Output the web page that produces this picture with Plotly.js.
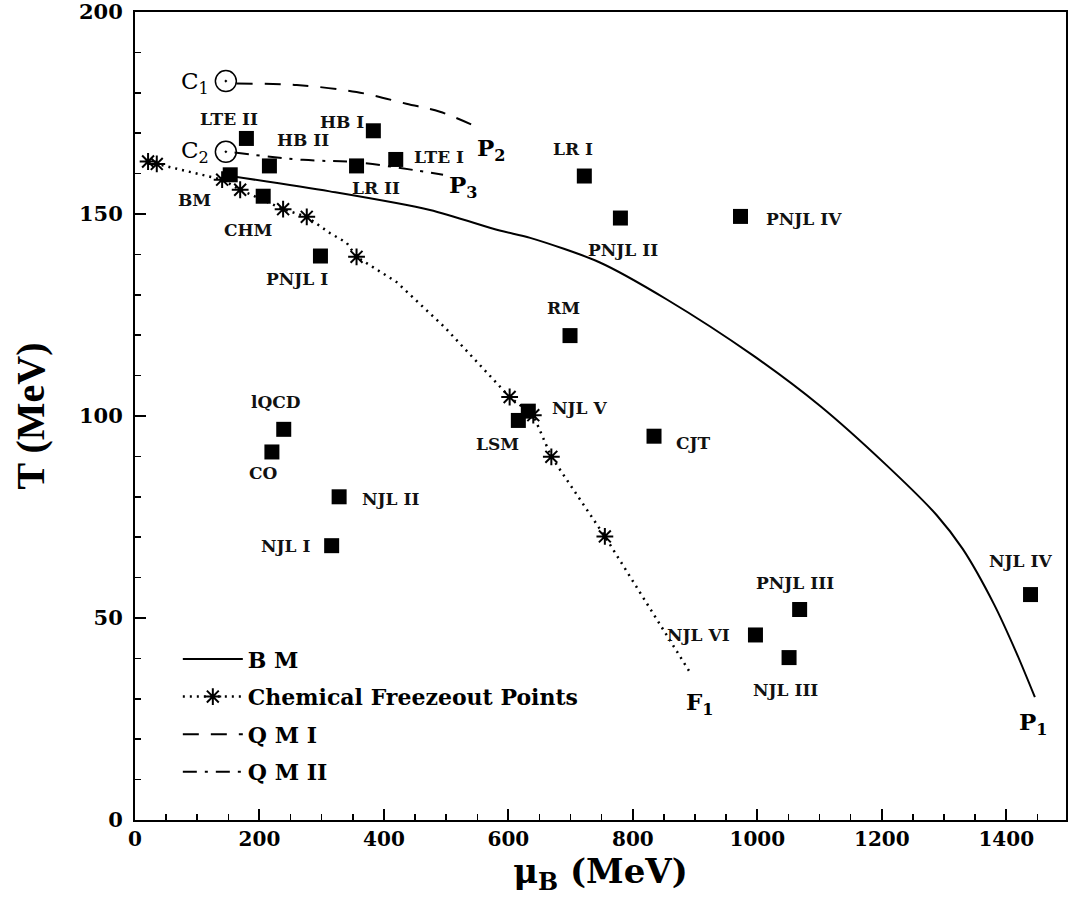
<!DOCTYPE html>
<html><head><meta charset="utf-8">
<script src="https://cdn.plot.ly/plotly-3.0.1.min.js"></script>
<style>html,body{margin:0;padding:0;background:#fff}</style>
</head><body><div id="chart" style="width:1068px;height:911px"></div>
<script>
// Boundary line "B M"
const bmMu = [153,313,474,586,635,747,854,993,1100,1207,1288,1330,1380,1416,1446];
const bmT  = [159.4,155.6,151,145.9,144.1,138,128.9,115,102.6,87.9,75.5,67.1,53.5,41.5,30.4];
// Chemical freezeout curve (dotted) and points (asterisks)
const cfCurveMu = [21,35,140,169,238,276,313,340,356,420,498,565,602,640,669,755,827,894];
const cfCurveT  = [163,162.4,158.5,156,151.2,149.3,145.3,142.9,139.4,133.2,121.9,110.8,104.7,100.2,89.9,70.2,52.5,36];
const cfPtMu = [21,35,140,169,238,276,356,602,640,669,755];
const cfPtT  = [163,162.4,158.5,156,151.2,149.3,139.4,104.7,100.2,89.9,70.2];
// Quark-meson lines
const qm1Mu = [163,260,356,436,490,543];
const qm1T  = [182.3,181.9,180.2,177.3,175.3,172];
const qm2Mu = [160,270,356,447,495];
const qm2T  = [165.2,163.4,162.8,160.9,159.7];
// Critical points C1, C2
const cpMu = [146,146];
const cpT  = [182.9,165.4];
// Model critical end points (squares)
const modelMu = [179,383,216,356,419,153,206,298,722,780,973,699,239,220,328,316,616,632,834,1068,997,1051,1439];
const modelT  = [168.7,170.6,161.9,161.9,163.5,159.7,154.4,139.6,159.4,149,149.4,119.9,96.7,91.1,80,67.9,98.9,101.2,95,52.1,45.8,40.2,55.8];
// Text labels
const labelText = ["LTE II","HB I","HB II","LTE I","LR II","BM","CHM","PNJL I","LR I","PNJL II","PNJL IV","RM","NJL V","CJT","LSM","lQCD","CO","NJL II","NJL I","PNJL III","NJL VI","NJL III","NJL IV"];
const labelMu   = [151,332,270,488,387,95,183,260,704,784,1075,689,715,898,583,226,206,411,242,1061,905,1045,1423];
const labelT    = [173.4,172.8,168.3,164.2,156.4,153.5,146.1,134,166.1,141,148.8,126.8,102,93.4,93,103.4,86,79.4,67.9,58.7,45.8,32.2,64.2];
const pointText = ["C<sub>1</sub>","C<sub>2</sub>","P<sub>2</sub>","P<sub>3</sub>","F<sub>1</sub>","P<sub>1</sub>"];
const pointMu   = [96,96,573,528,908,1444];
const pointT    = [182.5,165.3,166,156.7,28.8,23.9];

const serif = "DejaVu Serif";
const traces = [
  {x: bmMu, y: bmT, mode: 'lines', name: 'B M', legendgroup: 'a',
   line: {color: '#000', width: 2, shape: 'spline', smoothing: 0.8}},
  {x: [null], y: [null], mode: 'lines+markers', name: 'Chemical Freezeout Points', legendgroup: 'b',
   line: {color: '#000', width: 2.5, dash: '2px,5px'},
   marker: {symbol: 'asterisk-open', size: 14, color: '#000', line: {color: '#000', width: 2}}},
  {x: qm1Mu, y: qm1T, mode: 'lines', name: 'Q M I', legendgroup: 'c',
   line: {color: '#000', width: 2, dash: '16px,12px', shape: 'spline'}},
  {x: qm2Mu, y: qm2T, mode: 'lines', name: 'Q M II', legendgroup: 'd',
   line: {color: '#000', width: 2, dash: '14px,8px,3px,8px', shape: 'spline'}},
  {x: cfCurveMu, y: cfCurveT, mode: 'lines', showlegend: false,
   line: {color: '#000', width: 2.5, dash: '2px,5px'}},
  {x: cfPtMu, y: cfPtT, mode: 'markers', showlegend: false,
   marker: {symbol: 'asterisk-open', size: 14, color: '#000', line: {color: '#000', width: 2}}},
  {x: modelMu, y: modelT, mode: 'markers', showlegend: false,
   marker: {symbol: 'square', size: 15, color: '#000'}},
  {x: cpMu, y: cpT, mode: 'markers', showlegend: false,
   marker: {symbol: 'circle-open-dot', size: 21, color: '#000', line: {color: '#000', width: 1.5}}}
];

const annotations = [];
labelText.forEach((t, i) => annotations.push({
  x: labelMu[i], y: labelT[i], text: t, showarrow: false, xanchor: 'center', yanchor: 'middle',
  font: {family: serif, size: 17, weight: 'bold', color: '#111'}
}));
pointText.forEach((t, i) => annotations.push({
  x: pointMu[i], y: pointT[i], text: t, showarrow: false, xanchor: 'center', yanchor: 'middle',
  font: {family: serif, size: 23, weight: i < 2 ? 'normal' : 'bold', color: '#000'}
}));

const layout = {
  width: 1068, height: 911,
  margin: {l: 135, r: 2, t: 12, b: 91},
  paper_bgcolor: '#fff', plot_bgcolor: '#fff',
  showlegend: true,
  legend: {x: 0.046, y: 0.225, xanchor: 'left', yanchor: 'top', bgcolor: 'rgba(0,0,0,0)',
    font: {family: serif, size: 22, weight: 'bold', color: '#000'},
    traceorder: 'grouped', tracegroupgap: 6, itemwidth: 60},
  xaxis: {range: [0, 1496], tickmode: 'linear', tick0: 0, dtick: 200,
    ticks: 'inside', ticklen: 11, tickwidth: 2, tickcolor: '#000',
    minor: {dtick: 50, ticks: 'inside', ticklen: 6, tickwidth: 1.5, tickcolor: '#000'},
    showline: true, linewidth: 2, linecolor: '#000', mirror: true,
    showgrid: false, zeroline: false, ticklabeloverflow: 'allow',
    tickfont: {family: serif, size: 20, weight: 'bold', color: '#000'},
    title: {text: 'μ<sub>B</sub> (MeV)', standoff: 4,
      font: {family: serif, size: 34, weight: 'bold', color: '#000'}}},
  yaxis: {range: [0, 200], tickmode: 'linear', tick0: 0, dtick: 50,
    ticks: 'inside', ticklen: 11, tickwidth: 2, tickcolor: '#000',
    minor: {dtick: 10, ticks: 'inside', ticklen: 6, tickwidth: 1.5, tickcolor: '#000'},
    showline: true, linewidth: 2, linecolor: '#000', mirror: true,
    showgrid: false, zeroline: false, ticklabelstandoff: 6, ticklabeloverflow: 'allow',
    tickfont: {family: serif, size: 21, weight: 'bold', color: '#000'},
    title: {text: 'T (MeV)', standoff: 22,
      font: {family: 'Liberation Serif', size: 40, weight: 'bold', color: '#000'}}},
  annotations: annotations
};

Plotly.newPlot('chart', traces, layout, {staticPlot: true, displayModeBar: false});
</script></body></html>
